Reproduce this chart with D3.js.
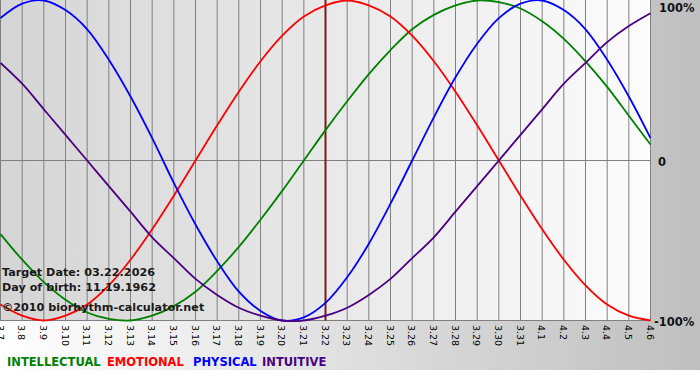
<!DOCTYPE html>
<html>
<head>
<meta charset="utf-8">
<script src="https://cdn.jsdelivr.net/npm/d3@7"></script>
<style>
  body { margin: 0; background: #fff; }
  svg { display: block; }
</style>
</head>
<body>
<svg id="chart" width="700" height="380"></svg>
<script>
// day labels, 3.7 .. 4.6
const days = ['3.7','3.8','3.9','3.10','3.11','3.12','3.13','3.14','3.15','3.16','3.17','3.18','3.19','3.20','3.21',
  '3.22','3.23','3.24','3.25','3.26','3.27','3.28','3.29','3.30','3.31','4.1','4.2','4.3','4.4','4.5','4.6'];
const targetDay = '3.22';

// values, -1 .. 1
const physical = [0.89,0.98,1.00,0.94,0.82,0.63,0.40,0.14,-0.14,-0.40,-0.63,-0.82,-0.94,-1.00,-0.98,-0.89,
  -0.73,-0.52,-0.27,0,0.27,0.52,0.73,0.89,0.98,1.00,0.94,0.82,0.63,0.40,0.14];
const emotional = [-0.90,-0.97,-1.00,-0.97,-0.90,-0.78,-0.62,-0.43,-0.22,0,0.22,0.43,0.62,0.78,0.90,0.97,
  1.00,0.97,0.90,0.78,0.62,0.43,0.22,0,-0.22,-0.43,-0.62,-0.78,-0.90,-0.97,-1.00];
const intellectual = [-0.46,-0.62,-0.76,-0.87,-0.95,-0.99,-1.00,-0.97,-0.91,-0.82,-0.69,-0.54,-0.37,-0.19,0,0.19,
  0.37,0.54,0.69,0.82,0.91,0.97,1.00,0.99,0.95,0.87,0.76,0.62,0.46,0.28,0.10];
const intuitive = [0.61,0.48,0.32,0.16,0,-0.16,-0.32,-0.48,-0.61,-0.74,-0.84,-0.92,-0.97,-1.00,-1.00,-0.97,
  -0.92,-0.84,-0.74,-0.61,-0.48,-0.32,-0.16,0,0.16,0.32,0.48,0.61,0.74,0.84,0.92];

const seriesNames = ['INTELLECTUAL','EMOTIONAL','PHYSICAL','INTUITIVE'];
const seriesColors = ['#008000','#ff0000','#0000ff','#4b0082'];
const seriesData = [intellectual, emotional, physical, intuitive];

const yTicks = [1, 0, -1];
const yLabels = ['100%', '0', '-100%'];

const infoLines = ['Target Date: 03.22.2026', 'Day of birth: 11.19.1962', '\u00a92010 biorhythm-calculator.net'];

const W = 700, H = 380;
const plotW = 650, plotTop = 0.5, plotBottom = 320.5;

const svg = d3.select('#chart');
const defs = svg.append('defs');

const bgGrad = defs.append('linearGradient').attr('id', 'bg').attr('x1', 0).attr('x2', 1).attr('y1', 0).attr('y2', 0);
bgGrad.append('stop').attr('offset', '0%').attr('stop-color', '#ffffff');
bgGrad.append('stop').attr('offset', '100%').attr('stop-color', '#bfbfbf');

const plotGrad = defs.append('linearGradient').attr('id', 'plotbg').attr('x1', 0).attr('x2', 1).attr('y1', 0).attr('y2', 0);
plotGrad.append('stop').attr('offset', '0%').attr('stop-color', '#d5d5d5');
plotGrad.append('stop').attr('offset', '100%').attr('stop-color', '#fcfcfc');

svg.append('rect').attr('width', W).attr('height', 370).attr('fill', 'url(#bg)');
svg.append('rect').attr('width', plotW + 1).attr('height', plotBottom).attr('fill', 'url(#plotbg)');

const x = d3.scalePoint().domain(days).range([0.5, plotW + 0.5]);
const y = d3.scaleLinear().domain([-1, 1]).range([plotBottom, plotTop]);

// vertical grid lines
svg.append('g')
  .selectAll('line')
  .data(days)
  .join('line')
  .attr('x1', d => x(d)).attr('x2', d => x(d))
  .attr('y1', 0).attr('y2', plotBottom)
  .attr('stroke', '#808080').attr('stroke-width', 1);

// zero line and bottom line
svg.append('g')
  .selectAll('line')
  .data([0, -1])
  .join('line')
  .attr('x1', 0).attr('x2', plotW + 1)
  .attr('y1', d => y(d)).attr('y2', d => y(d))
  .attr('stroke', '#808080').attr('stroke-width', 1);

// target date line
svg.append('line')
  .attr('x1', x(targetDay)).attr('x2', x(targetDay))
  .attr('y1', 0).attr('y2', plotBottom)
  .attr('stroke', '#7a1a1a').attr('stroke-width', 2);

// curves
const line = d3.line()
  .x((d, i) => x(days[i]))
  .y(d => y(d))
  .curve(d3.curveCatmullRom);

svg.append('g')
  .selectAll('path')
  .data(seriesData)
  .join('path')
  .attr('d', d => line(d))
  .attr('fill', 'none')
  .attr('stroke', (d, i) => seriesColors[i])
  .attr('stroke-width', 1.8);

// bottom day labels, rotated
svg.append('g')
  .selectAll('text')
  .data(days)
  .join('text')
  .attr('transform', d => 'translate(' + (x(d) - 3.8) + ',' + 325 + ') rotate(90)')
  .attr('font-family', 'Verdana, "DejaVu Sans", sans-serif')
  .attr('font-size', 9.5)
  .attr('fill', '#000')
  .text(d => d);

// right percent labels
svg.append('g')
  .selectAll('text')
  .data(yTicks)
  .join('text')
  .attr('x', (d, i) => [659, 658, 654][i])
  .attr('y', (d, i) => [12, y(d) + 5, y(d) + 5][i])
  .attr('font-family', '"DejaVu Sans", Verdana, sans-serif')
  .attr('font-weight', 'bold')
  .attr('font-size', 11.5)
  .attr('fill', '#111')
  .text((d, i) => yLabels[i]);

// info text
svg.append('g')
  .selectAll('text')
  .data(infoLines)
  .join('text')
  .attr('x', 2)
  .attr('y', (d, i) => [276, 291, 311][i])
  .attr('font-family', '"DejaVu Sans", Verdana, sans-serif')
  .attr('font-weight', 'bold')
  .attr('font-size', 11.2)
  .attr('fill', '#1a1a1a')
  .text(d => d);

// legend
svg.append('g')
  .selectAll('text')
  .data(seriesNames)
  .join('text')
  .attr('x', (d, i) => [7, 107, 193, 262][i])
  .attr('y', 366)
  .attr('font-family', '"DejaVu Sans", Tahoma, sans-serif')
  .attr('font-weight', 'bold')
  .attr('font-size', 11.5)
  .attr('fill', (d, i) => seriesColors[i])
  .text(d => d);
</script>
</body>
</html>
